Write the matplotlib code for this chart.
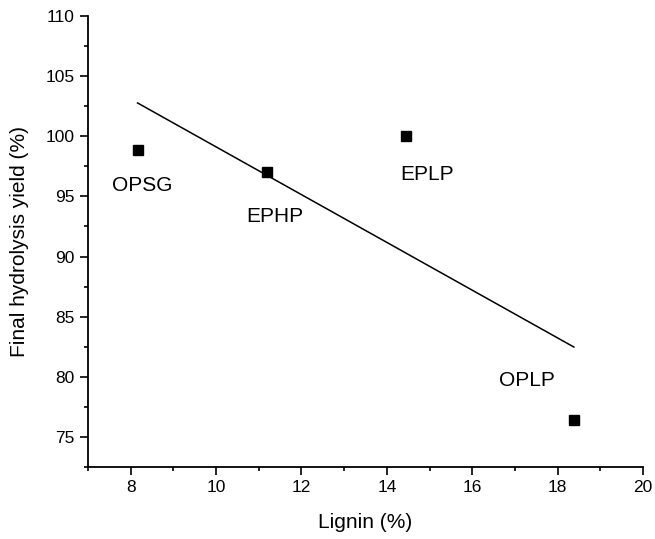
import matplotlib
matplotlib.use('Agg')
import matplotlib.pyplot as plt
from matplotlib.ticker import MultipleLocator
import numpy as np

plt.rcParams['font.family'] = ['Liberation Sans', 'DejaVu Sans']

# lignin content vs final hydrolysis yield
samples = ['OPSG', 'EPHP', 'EPLP', 'OPLP']
lignin = np.array([8.16, 11.19, 14.45, 18.38])
hydro_yield = np.array([98.86, 97.0, 100.0, 76.42])
# label anchor points (data coords)
label_x = [8.26, 11.37, 14.93, 17.28]
label_y = [95.87, 93.37, 96.83, 79.66]

fig = plt.figure(figsize=(6.55, 5.39), dpi=100)
ax = fig.add_axes([0.1344, 0.1336, 0.8473, 0.8367])

# linear fit across the samples
slope, icpt = np.polyfit(lignin, hydro_yield, 1)
xfit = np.array([lignin.min(), lignin.max()])
ax.plot(xfit, slope * xfit + icpt, color='k', lw=1.1, zorder=1)

ax.plot(lignin, hydro_yield, 's', color='k', ms=7, zorder=2)
for name, lx, ly in zip(samples, label_x, label_y):
    ax.text(lx, ly, name, fontsize=15, ha='center', va='center')

ax.set_xlim(7, 20)
ax.set_ylim(72.5, 110)
ax.xaxis.set_major_locator(MultipleLocator(2))
ax.xaxis.set_minor_locator(MultipleLocator(1))
ax.yaxis.set_major_locator(MultipleLocator(5))
ax.yaxis.set_minor_locator(MultipleLocator(2.5))

for s in ['top', 'right']:
    ax.spines[s].set_visible(False)
for s in ['left', 'bottom']:
    ax.spines[s].set_linewidth(1.3)
ax.tick_params(which='major', direction='out', length=6, width=1.2, labelsize=12.5)
ax.tick_params(which='minor', direction='out', length=3, width=1.2)

ax.set_xlabel('Lignin (%)', fontsize=15, labelpad=13)
ax.set_ylabel('Final hydrolysis yield (%)', fontsize=15, labelpad=12)

fig.savefig('out.png', dpi=100)
